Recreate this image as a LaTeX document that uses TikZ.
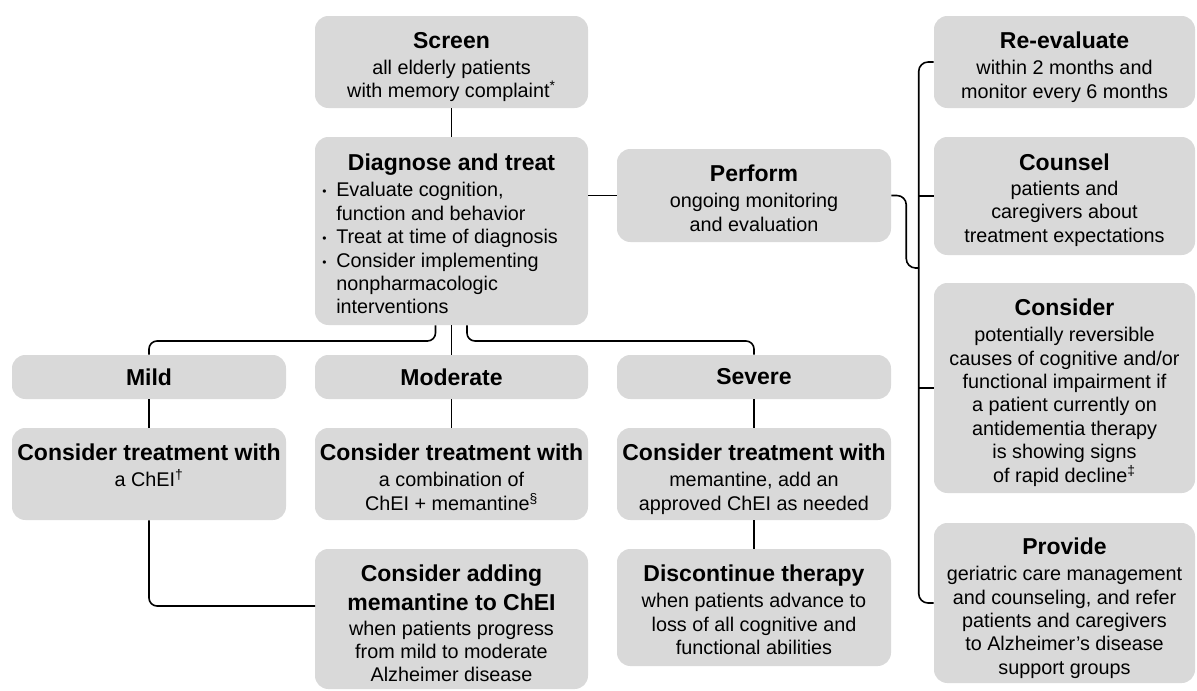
\documentclass[tikz,border=0pt]{standalone}
\usepackage{fontspec}
\setmainfont{Liberation Sans}
\usetikzlibrary{calc}
\definecolor{boxgray}{RGB}{217,217,217}
\newcommand\ttlfont{\fontsize{17.25pt}{20pt}\selectfont\bfseries}
\newcommand\bodyfont{\fontsize{14.85pt}{17.55pt}\selectfont}
\newcommand\bulitem{\makebox[10.5pt][l]{\raisebox{0.8pt}{\fontsize{9pt}{9pt}\selectfont\textbullet}}}
\begin{document}
\begin{tikzpicture}[x=0.75pt,y=-0.75pt,
  box/.style={fill=boxgray, rounded corners=10pt, inner sep=0pt},
  sz/.style 2 args={minimum width=#1*0.75pt, minimum height=#2*0.75pt},
  txt/.style={anchor=north, align=center, inner sep=0pt, font=\bodyfont},
  lvl/.style={font=\ttlfont},
  conn/.style={draw=black, line width=1.2pt, rounded corners=6pt},
]
\useasboundingbox (0,0) rectangle (1197,690);

% boxes
\node[box, sz={273}{92}]  (screen)   at (451.5,62) {};
\node[box, sz={273}{188}] (diag)     at (451.5,231) {};
\node[box, sz={274}{93}]  (perform)  at (754,195.5) {};
\node[box, sz={261}{92}]  (reeval)   at (1064.5,62) {};
\node[box, sz={261}{118}] (counsel)  at (1064.5,196) {};
\node[box, sz={261}{210}] (consider) at (1064.5,388) {};
\node[box, sz={261}{160}] (provide)  at (1064.5,603) {};
\node[box, lvl, sz={274}{44}] (mild)     at (149,377) {Mild};
\node[box, lvl, sz={273}{44}] (moderate) at (451.5,377) {Moderate};
\node[box, lvl, sz={274}{44}] (severe)   at (754,377) {Severe};
\node[box, sz={274}{92}]  (cmild) at (149,474) {};
\node[box, sz={273}{92}]  (cmod)  at (451.5,474) {};
\node[box, sz={274}{92}]  (csev)  at (754,474) {};
\node[box, sz={273}{140}] (cadd)  at (451.5,619) {};
\node[box, sz={274}{117}] (disc)  at (754,607.5) {};

% texts
\node[txt] (screen-t) at (451.5,31.75) {{\ttlfont Screen}\\[2pt]all elderly patients\\with memory complaint\textsuperscript{*}};
\node[txt] (diag-t) at (451.5,153.75) {{\ttlfont Diagnose and treat}};
\node[txt, anchor=north west, align=left] (diag-l) at (322,182.3) {\bulitem Evaluate cognition,\\\hspace*{10.5pt}function and behavior\\\bulitem Treat at time of diagnosis\\\bulitem Consider implementing\\\hspace*{10.5pt}nonpharmacologic\\\hspace*{10.5pt}interventions};
\node[txt] (perform-t) at (754,164.75) {{\ttlfont Perform}\\[2pt]ongoing monitoring\\and evaluation};
\node[txt] (reeval-t) at (1064.5,31.75) {{\ttlfont Re-evaluate}\\[2pt]within 2 months and\\monitor every 6 months};
\node[txt] (counsel-t) at (1064.5,153.75) {{\ttlfont Counsel}\\[1pt]patients and\\caregivers about\\treatment expectations};
\node[txt] (consider-t) at (1064.5,298.75) {{\ttlfont Consider}\\[2pt]potentially reversible\\causes of cognitive and/or\\functional impairment if\\a patient currently on\\antidementia therapy\\is showing signs\\of rapid decline\textsuperscript{‡}};
\node[txt] (provide-t) at (1064.5,537.75) {{\ttlfont Provide}\\[2pt]geriatric care management\\and counseling, and refer\\patients and caregivers\\to Alzheimer’s disease\\support groups};
\node[txt] (cmild-t) at (149,443.75) {{\ttlfont Consider treatment with}\\[2pt]a ChEI\textsuperscript{†}};
\node[txt] (cmod-t) at (451.5,443.75) {{\ttlfont Consider treatment with}\\[2pt]a combination of\\ChEI + memantine\textsuperscript{§}};
\node[txt] (csev-t) at (754,443.75) {{\ttlfont Consider treatment with}\\[2pt]memantine, add an\\approved ChEI as needed};
\node[txt] (cadd-t) at (451.5,564.75) {{\ttlfont Consider adding}\\[4pt]{\ttlfont memantine to ChEI}\\[1pt]when patients progress\\from mild to moderate\\Alzheimer disease};
\node[txt] (disc-t) at (754,564.75) {{\ttlfont Discontinue therapy}\\[2pt]when patients advance to\\loss of all cognitive and\\functional abilities};

% junction coordinates
\coordinate (jmild) at (149,341);
\coordinate (jsev) at (754,341);
\coordinate (jadd) at (315,606);
\coordinate (jperf) at (919,268);

% connectors
\draw[conn] (screen) -- (diag);
\draw[conn] (diag.east |- perform.west) -- (perform.west);
\draw[conn] (diag) -- (moderate);
\draw[conn] ([xshift=-12pt]diag.south) |- (jmild) -- (mild.north);
\draw[conn] ([xshift=11.6pt]diag.south) |- (jsev) -- (severe.north);
\draw[conn] (mild) -- (cmild);
\draw[conn] (moderate) -- (cmod);
\draw[conn] (severe) -- (csev);
\draw[conn] (csev) -- (disc);
\draw[conn] (cmild) |- (jadd);
\draw[conn, rounded corners=7pt] (perform.east) -- ++(15,0) |- (jperf);
\draw[conn, rounded corners=7pt] (reeval.west) -- ++(-15,0) |- (provide.west);
\draw[conn] (counsel.west) -- ++(-15,0);
\draw[conn] (consider.west) -- ++(-15,0);
\end{tikzpicture}
\end{document}
